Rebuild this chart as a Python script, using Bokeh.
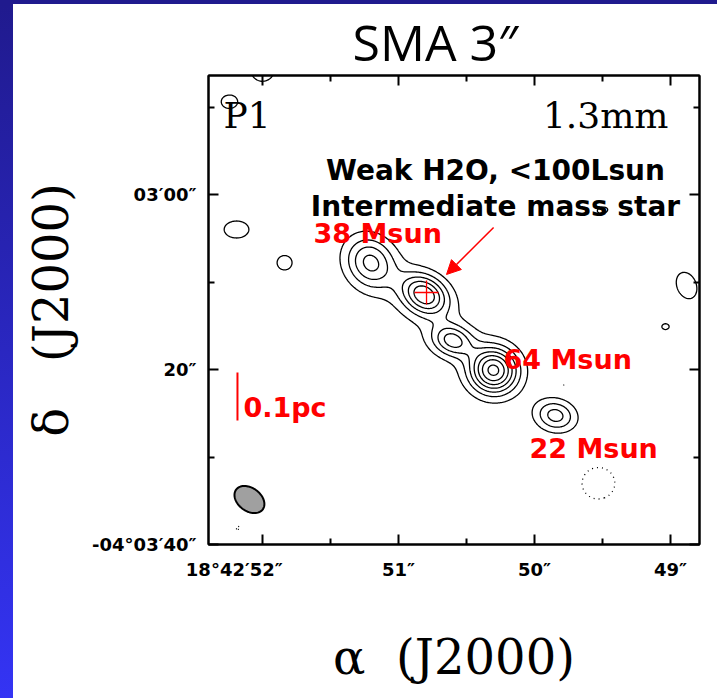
import numpy as np
from bokeh.plotting import figure
from bokeh.models import FixedTicker, LinearAxis, Range1d, Arrow, NormalHead, Spacer
from bokeh.layouts import column, row
from bokeh.core.properties import value
from bokeh.embed import file_html
from bokeh.resources import INLINE

# Axis ticks: RA seconds past 18h42m, Dec in arcsec north of -04d03m40s
ra_ticks = [52, 51, 50, 49]
ra_minor = [51.5, 50.5, 49.5]
ra_labels = ["18°42′52″", "51″", "50″", "49″"]
dec_ticks = [0, 20, 40]
dec_minor = [10, 30, 50]
dec_labels = ["-04°03′40″", "20″", "03′00″"]

# 1.3 mm emission components (RA s, Dec arcsec, peak in contour units,
# Gaussian sigma along major / minor axis in arcsec, position angle in deg)
comp_ra   = [51.206, 50.809, 50.603, 50.301, 49.846, 50.765,
             52.191, 51.838, 48.882, 49.037, 49.500, 52.000, 52.243,
             49.530, 49.787, 52.180]
comp_dec  = [32.23, 28.57, 23.31, 19.89, 14.74, 26.17,
             36.00, 32.20, 29.60, 24.90, 38.20, 54.20, 50.60,
             7.00, 18.20, 1.90]
comp_peak = [4.0, 5.3, 3.9, 7.0, 3.4, 0.75,
             1.6, 1.5, 1.6, 1.25, 1.3, 1.6, 1.5,
             -1.5, -1.1, -1.1]
comp_smaj = [2.1, 1.9, 1.6, 1.85, 1.6, 7.5,
             1.4, 0.9, 1.6, 0.6, 0.8, 1.3, 1.0,
             2.0, 0.6, 0.6]
comp_smin = [1.8, 1.45, 1.2, 1.8, 1.25, 3.0,
             1.0, 0.9, 1.1, 0.5, 0.5, 1.3, 0.85,
             2.0, 0.4, 0.4]
comp_pa   = [30, 55, 70, 45, 75, 49,
             90, 0, 20, 90, 100, 0, 90,
             0, 90, 90]

pos_levels = [1, 2, 3, 4, 5, 6, 7]
neg_levels = [-1]

# synthesized beam (FWHM, arcsec) and its position in the lower-left corner
beam_maj, beam_min, beam_pa = 3.7, 2.6, 50
beam_ra, beam_dec = 52.096, 5.14

# water maser position and 0.1 pc scale bar
maser_ra, maser_dec = 50.794, 28.8
bar_ra, bar_dec0, bar_len = 52.184, 14.17, 5.5

ARCSEC_PER_RA_S = 15.0 * np.cos(np.deg2rad(4.06))

gx = np.linspace(48.5, 52.6, 520)
gy = np.linspace(-4, 58, 520)
X, Y = np.meshgrid(gx, gy)
Z = np.zeros_like(X)
for ra, dec, pk, a, b, pa in zip(comp_ra, comp_dec, comp_peak, comp_smaj, comp_smin, comp_pa):
    dx = (X - ra) * ARCSEC_PER_RA_S
    dy = Y - dec
    t = np.deg2rad(pa)
    u = dx * np.sin(t) + dy * np.cos(t)
    v = dx * np.cos(t) - dy * np.sin(t)
    Z += pk * np.exp(-0.5 * ((u / a) ** 2 + (v / b) ** 2))

p = figure(width=704, height=694,
           x_range=Range1d(52.397, 48.787), y_range=Range1d(0, 53.6),
           output_backend="svg", toolbar_location=None,
           min_border_left=195, min_border_right=18,
           min_border_top=71, min_border_bottom=154,
           background_fill_color="white", border_fill_color="white",
           outline_line_color="black", outline_line_width=2)
p.grid.visible = False

p.title.text = "SMA 3″"
p.title.align = "left"
p.title.offset = 144
p.title.standoff = 0
p.title.text_font = "Open Sans"
p.title.text_font_style = "normal"
p.title.text_font_size = "50px"
p.title.text_color = "black"

def style_axis(ax, ticks, minor, labels=None):
    ax.ticker = FixedTicker(ticks=ticks, minor_ticks=minor)
    ax.axis_line_width = 2
    ax.axis_line_color = "black"
    ax.major_tick_in = 10
    ax.major_tick_out = 0
    ax.minor_tick_in = 6
    ax.minor_tick_out = 0
    ax.major_tick_line_width = 2
    ax.minor_tick_line_width = 2
    if labels is None:
        ax.major_label_text_color = None
        ax.major_label_text_font_size = "1px"
        ax.major_label_standoff = 0
    else:
        ax.major_label_overrides = dict(zip(ticks, labels))
        ax.major_label_text_font = "DejaVu Sans"
        ax.major_label_text_font_style = "bold"
        ax.major_label_text_font_size = "18px"
        ax.major_label_text_color = "black"

xl = list(ra_labels)
xl[0] = xl[0] + "\u00a0" * 9
style_axis(p.xaxis[0], ra_ticks, ra_minor, xl)
p.xaxis[0].major_label_standoff = 14
p.xaxis[0].axis_label = "α\u00a0\u00a0(J2000)"
p.xaxis[0].axis_label_text_font = "DejaVu Serif"
p.xaxis[0].axis_label_text_font_style = "normal"
p.xaxis[0].axis_label_text_font_size = "48px"
p.xaxis[0].axis_label_text_color = "black"
p.xaxis[0].axis_label_standoff = 46

style_axis(p.yaxis[0], dec_ticks, dec_minor, dec_labels)
p.yaxis[0].major_label_standoff = 12
p.yaxis[0].axis_label = "δ\u00a0\u00a0\u00a0(J2000)"
p.yaxis[0].axis_label_text_font = "DejaVu Serif"
p.yaxis[0].axis_label_text_font_style = "normal"
p.yaxis[0].axis_label_text_font_size = "48px"
p.yaxis[0].axis_label_text_color = "black"
p.yaxis[0].axis_label_standoff = 10

top_ax = LinearAxis()
style_axis(top_ax, ra_ticks, ra_minor)
p.add_layout(top_ax, "above")
right_ax = LinearAxis()
style_axis(right_ax, dec_ticks, dec_minor)
p.add_layout(right_ax, "right")

# contour map
p.contour(gx, gy, Z, levels=pos_levels, line_color="black", line_width=1.3)
p.contour(gx, gy, Z, levels=neg_levels, line_color="black", line_width=1.3, line_dash="1 4")

# beam ellipse
tt = np.linspace(0, 2 * np.pi, 80)
bu = 0.5 * beam_maj * np.cos(tt)
bv = 0.5 * beam_min * np.sin(tt)
bt = np.deg2rad(beam_pa)
b_east = bu * np.sin(bt) + bv * np.cos(bt)
b_north = bu * np.cos(bt) - bv * np.sin(bt)
p.patch(beam_ra + b_east / ARCSEC_PER_RA_S, beam_dec + b_north,
        fill_color="#a0a0a0", line_color="black", line_width=2)

# labels inside the map
p.text(x=[52.287], y=[49.0], text=["P1"], text_font=value("DejaVu Serif"),
       text_font_size="36px", text_color="black", text_align="left", text_baseline="alphabetic")
p.text(x=[49.015], y=[49.0], text=["1.3mm"], text_font=value("DejaVu Serif"),
       text_font_size="36px", text_color="black", text_align="right", text_baseline="alphabetic")

p.text(x=[50.287, 50.287], y=[42.8, 38.6],
       text=["Weak H2O, <100Lsun", "Intermediate mass star"],
       text_font=value("DejaVu Sans"), text_font_style="bold", text_font_size="28px",
       text_color="black", text_align="center", text_baseline="alphabetic")

p.text(x=[51.625, 50.228, 50.037, 52.140], y=[35.6, 21.15, 11.0, 15.7],
       text=["38 Msun", "64 Msun", "22 Msun", "0.1pc"],
       text_font=value("DejaVu Sans"), text_font_style="bold", text_font_size="27px",
       text_color="red", text_align="left", text_baseline="alphabetic")

# 0.1 pc scale bar
p.segment(x0=[bar_ra], y0=[bar_dec0], x1=[bar_ra], y1=[bar_dec0 + bar_len],
          line_color="red", line_width=2)

# maser position and pointer
p.scatter(x=[maser_ra], y=[maser_dec], marker="cross", size=24,
          line_color="red", line_width=1.3)
p.add_layout(Arrow(end=NormalHead(size=14, fill_color="red", line_color="red"),
                   x_start=50.301, y_start=36.23, x_end=50.647, y_end=30.86,
                   line_color="red", line_width=1.5))

top_strip = Spacer(width=717, height=4, styles={"background": "#201a8e"})
left_strip = Spacer(width=13, height=694,
                    styles={"background": "linear-gradient(#201a8e, #3434f4)"})
layout = column(top_strip, row(left_strip, p))

open("out.html", "w").write(file_html(layout, INLINE))
